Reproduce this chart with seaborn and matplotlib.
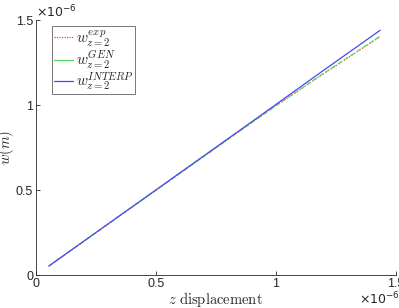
import matplotlib.pyplot as plt
import seaborn as sns
import pandas as pd

# values in units of 1e-6 m
z_disp = [0.054, 0.3, 0.6, 0.9, 1.0, 1.2, 1.435]
w_exp = [0.053, 0.299, 0.598, 0.897, 0.995, 1.185, 1.402]
w_gen = [0.053, 0.299, 0.598, 0.897, 0.996, 1.187, 1.405]
w_interp = [0.053, 0.300, 0.601, 0.902, 1.003, 1.205, 1.440]

labels = [r'$w_{z=2}^{exp}$', r'$w_{z=2}^{GEN}$', r'$w_{z=2}^{INTERP}$']
n = len(z_disp)

df = pd.DataFrame({'z': z_disp * 3,
                   'w': w_exp + w_gen + w_interp,
                   'series': [labels[0]] * n + [labels[1]] * n + [labels[2]] * n})

sns.set_style('ticks')
plt.rcParams['font.family'] = ['Liberation Sans', 'DejaVu Sans']
plt.rcParams['mathtext.fontset'] = 'cm'
plt.rcParams['xtick.direction'] = 'in'
plt.rcParams['ytick.direction'] = 'in'

fig = plt.figure(figsize=(3.99, 3.08), dpi=100)
ax = fig.add_axes([0.090, 0.107, 0.902, 0.828])

colors = ['#ff4040', '#55dd55', '#4848f0']
styles = [(0, (1, 1.5)), (0, (4, 2)), '-']
for lab, c, ls in zip(labels, colors, styles):
    sub = df[df['series'] == lab]
    sns.lineplot(x='z', y='w', data=sub, ax=ax, color=c, lw=0.9, label=lab)
    ax.lines[-1].set_linestyle(ls)

ax.set_xlim(0, 1.5)
ax.set_ylim(0, 1.5)
ax.set_xticks([0, 0.5, 1, 1.5])
ax.set_yticks([0, 0.5, 1, 1.5])
ax.set_xticklabels(['0', '0.5', '1', '1.5'])
ax.set_yticklabels(['0', '0.5', '1', '1.5'])
ax.tick_params(labelsize=9, length=3, width=0.6, color='#262626', labelcolor='#262626', pad=2)
for s in ['left', 'bottom']:
    ax.spines[s].set_linewidth(0.6)
    ax.spines[s].set_color('#262626')
sns.despine(ax=ax)

ax.set_xlabel(r'$z\ \mathrm{displacement}$', fontsize=10.5, color='#262626')
ax.xaxis.set_label_coords(0.5, -0.058)
ax.set_ylabel(r'$w(m)$', fontsize=10.5, color='#262626')
ax.yaxis.set_label_coords(-0.055, 0.5)

fig.text(0.090, 0.945, r'$\times10^{-6}$', fontsize=9, math_fontfamily='dejavusans', color='#262626')
fig.text(0.900, 0.012, r'$\times10^{-6}$', fontsize=9, math_fontfamily='dejavusans', color='#262626')

leg = ax.legend(loc='upper left', bbox_to_anchor=(0.045, 0.975), fontsize=11,
                fancybox=False, edgecolor='#555555', handlelength=1.3,
                handletextpad=0.15, labelspacing=0.0, borderpad=0.1, borderaxespad=0)
leg.get_frame().set_linewidth(0.7)
for h, ls in zip(leg.get_lines(), [(0, (1, 1)), '-', '-']):
    h.set_linestyle(ls)

fig.savefig('out.png', dpi=100)
